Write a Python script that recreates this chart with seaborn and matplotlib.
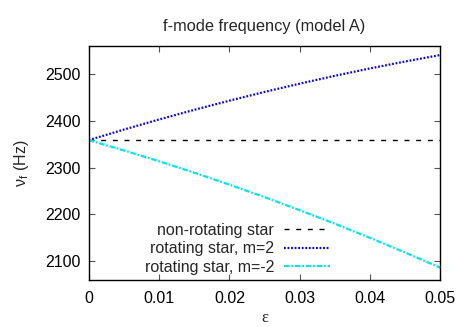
import numpy as np
import pandas as pd
import matplotlib
matplotlib.use('Agg')
import matplotlib.pyplot as plt
import seaborn as sns

# values
eps = [0.0, 0.005, 0.01, 0.015, 0.02, 0.025, 0.03, 0.035, 0.04, 0.045, 0.05]
nonrot = [2359, 2359, 2359, 2359, 2359, 2359, 2359, 2359, 2359, 2359, 2359]
rot_m2 = [2359, 2381.5, 2403.1, 2423.7, 2443.3, 2462, 2479.7, 2496.5, 2512.3, 2527.1, 2541]
rot_mm2 = [2359, 2336.9, 2313.7, 2289.3, 2263.7, 2237, 2209.1, 2180.1, 2149.9, 2118.5, 2086]

labels = ['non-rotating star', 'rotating star, m=2', 'rotating star, m=-2']
xticks = [0, 0.01, 0.02, 0.03, 0.04, 0.05]
xticklabels = ['0', '0.01', '0.02', '0.03', '0.04', '0.05']
yticks = [2100, 2200, 2300, 2400, 2500]

sns.set_theme(style='ticks')
plt.rcParams['font.family'] = ['Liberation Sans', 'DejaVu Sans']

fig = plt.figure(figsize=(4.67, 3.27), dpi=100)
ax = fig.add_axes([0.19, 0.144, 0.753, 0.715])

sns.lineplot(x=eps, y=nonrot, ax=ax, color='black', lw=1.0,
             dashes=False, label=labels[0])
sns.lineplot(x=eps, y=rot_m2, ax=ax, color='#0000ff', lw=1.6,
             label=labels[1])
sns.lineplot(x=eps, y=rot_mm2, ax=ax, color='#00e8e8', lw=1.6,
             label=labels[2])
ax.lines[0].set_dashes((3.6, 4.8))
ax.lines[1].set_dashes((0.8, 0.8))
ax.lines[2].set_dashes((2.5, 0.8, 0.8, 0.8))

ax.set_xlim(0, 0.05)
ax.set_ylim(2060, 2560)
ax.set_xticks(xticks)
ax.set_xticklabels(xticklabels)
ax.set_yticks(yticks)
ax.tick_params(direction='in', length=4, width=0.8, color='#555555',
               labelsize=11.5, top=True, right=True, labelcolor='black')
ax.tick_params(axis='x', pad=8)
ax.tick_params(axis='y', pad=6)
for s in ax.spines.values():
    s.set_color('black')
    s.set_linewidth(1.0)
    s.set_visible(True)

ax.set_title('f-mode frequency (model A)', fontsize=11.8, pad=11)
ax.set_xlabel('ε', fontsize=12, family=['Liberation Serif', 'DejaVu Serif'], labelpad=3)
ax.set_ylabel(r'$\mathregular{ν_f}$ (Hz)', fontsize=11.5, labelpad=10)

ax.legend(loc='lower right', bbox_to_anchor=(330 / 467, 52 / 327),
          bbox_transform=fig.transFigure, frameon=False, markerfirst=False,
          fontsize=11.5, handlelength=2.9, handletextpad=0.6,
          labelspacing=0.22, borderpad=0, borderaxespad=0)

fig.savefig('out.png', dpi=100)
